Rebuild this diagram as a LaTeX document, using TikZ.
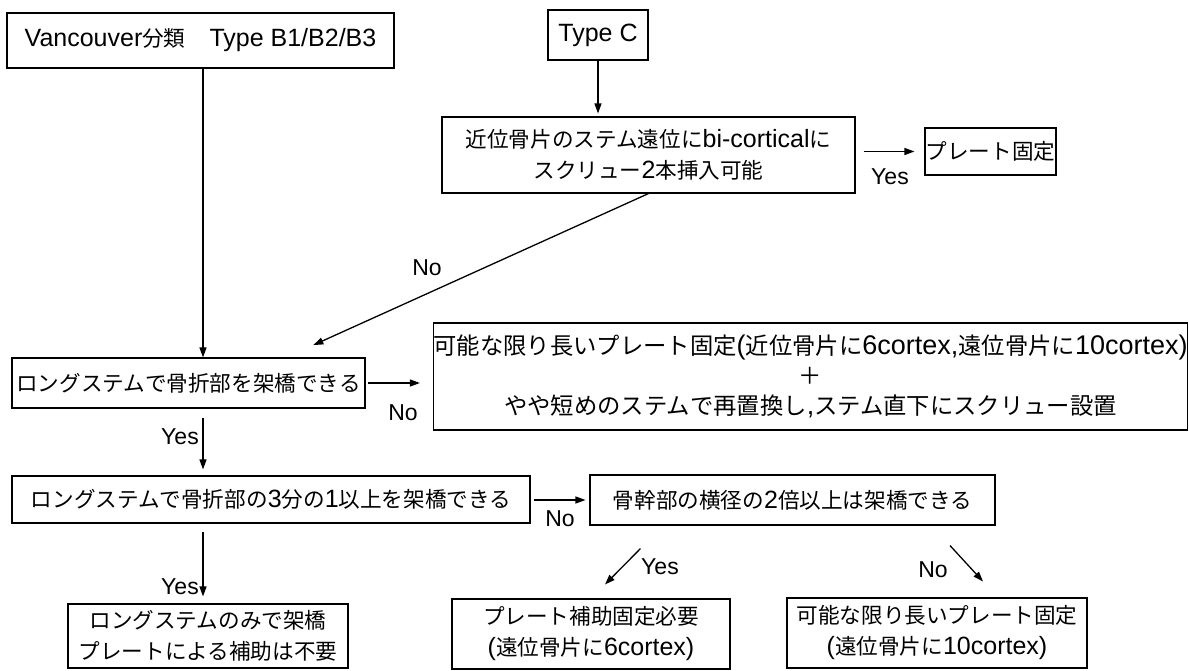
\documentclass[tikz,border=0pt]{standalone}
\usepackage{fontspec}
\setmainfont{Liberation Sans}
\newfontfamily\jpfont[Scale=0.864]{Noto Sans CJK JP}
\newcommand{\jj}[1]{{\jpfont #1}}
\usetikzlibrary{arrows.meta}
\begin{document}
\begin{tikzpicture}[x=1pt,y=-1pt,
  box/.style={draw, line width=1.1pt, inner sep=0pt, align=center, font=\fontsize{25}{31}\selectfont},
  bigbox/.style={box, font=\fontsize{27}{30}\selectfont},
  arr/.style={line width=1.3pt, -{Triangle[length=10pt,width=7pt]}},
  lab/.style={font=\fontsize{23}{26}\selectfont, inner sep=0pt}]
\useasboundingbox (0,0) rectangle (1189,671);
\fill[white] (0,0) rectangle (1189,671);
\coordinate (colx) at (203,0);
% boxes
\node[box, minimum width=387pt, minimum height=55pt] (b1) at (200.5,40.5)
  {Vancouver\jj{分類}\hspace{24pt}Type B1/B2/B3};
\node[box, minimum width=100pt, minimum height=50pt] (tc) at (598,35) {Type C};
\node[box, minimum width=413pt, minimum height=76pt] (b2) at (648.5,155)
  {\jj{近位骨片のステム遠位に}bi-cortical\jj{に}\\\jj{スクリュー}2\jj{本挿入可能}};
\node[box, minimum width=131pt, minimum height=47pt] (pf) at (990.5,151.5) {\jj{プレート固定}};
\node[box, minimum width=353pt, minimum height=50pt] (b3) at (188.5,383)
  {\jj{ロングステムで骨折部を架橋できる}};
\node[bigbox, minimum width=751pt, minimum height=107pt] (b4) at (810.5,376.5)
  {\jj{可能な限り長いプレート固定}(\jj{近位骨片に}6cortex,\jj{遠位骨片に}10cortex)\\
   \jj{＋}\\
   \jj{やや短めのステムで再置換し},\jj{ステム直下にスクリュー設置}};
\node[box, minimum width=518pt, minimum height=47pt] (b5) at (271,499.5)
  {\jj{ロングステムで骨折部の}3\jj{分の}1\jj{以上を架橋できる}};
\node[box, minimum width=405pt, minimum height=50pt] (b6) at (792.5,500)
  {\jj{骨幹部の横径の}2\jj{倍以上は架橋できる}};
\node[box, minimum width=280pt, minimum height=64pt] (b7) at (208,636)
  {\jj{ロングステムのみで架橋}\\\jj{プレートによる補助は不要}};
\node[box, minimum width=278pt, minimum height=70pt] (b8) at (591,634)
  {\jj{プレート補助固定必要}\\(\jj{遠位骨片に}6cortex)};
\node[box, minimum width=300pt, minimum height=70pt] (b9) at (937,633)
  {\jj{可能な限り長いプレート固定}\\(\jj{遠位骨片に}10cortex)};
% connectors
\draw[arr] (b1.south -| colx) -- (b3.north -| colx);
\draw[arr, shorten >=3pt] (tc.south) -- (b2.north -| tc.south);
\draw[arr, shorten >=30pt] (b2.south) -- ([xshift=97.5pt]b3.north);
\draw[arr, shorten <=8pt, shorten >=10pt] (b2.east |- pf.west) -- (pf.west);
\draw[arr, shorten <=2pt, shorten >=13pt] (b3.east) -- (b4.west |- b3.east);
\draw[arr, shorten <=9pt, shorten >=6pt] (b3.south -| colx) -- (b5.north -| colx);
\draw[arr, shorten <=3pt, shorten >=4pt] (b5.east |- b6.west) -- (b6.west);
\draw[arr, shorten <=8pt, shorten >=7pt] (b5.south -| colx) -- (b7.north -| colx);
\draw[arr] ([xshift=-152pt,yshift=-23pt]b6.south) -- ([xshift=14pt,yshift=14pt]b8.north);
\draw[arr] ([xshift=157.5pt,yshift=-20pt]b6.south) -- ([xshift=46pt,yshift=16pt]b9.north);
% labels
\node[lab] (l1) at (427,268) {No};
\node[lab] (l2) at (890,177) {Yes};
\node[lab] (l3) at (403,413) {No};
\node[lab] (l4) at (180,437) {Yes};
\node[lab] (l5) at (560,519) {No};
\node[lab] (l6) at (180,587) {Yes};
\node[lab] (l7) at (660,567) {Yes};
\node[lab] (l8) at (933,570) {No};
\end{tikzpicture}
\end{document}
